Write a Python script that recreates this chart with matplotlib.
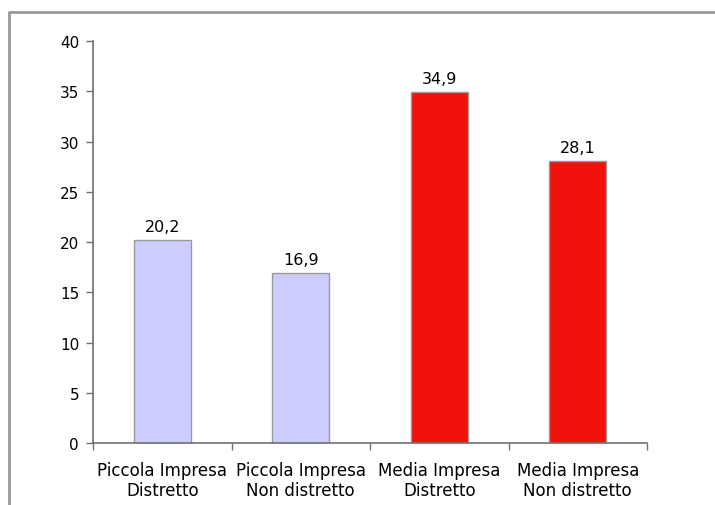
import matplotlib.pyplot as plt
from matplotlib.lines import Line2D

plt.rcParams['font.family'] = ['DejaVu Sans']

categories = ['Piccola Impresa\nDistretto', 'Piccola Impresa\nNon distretto',
              'Media Impresa\nDistretto', 'Media Impresa\nNon distretto']
values = [20.2, 16.9, 34.9, 28.1]
colors = ['#ccccff', '#ccccff', '#f2120b', '#f2120b']
yticks = [0, 5, 10, 15, 20, 25, 30, 35, 40]

W, H = 715, 506
fig = plt.figure(figsize=(W / 100, H / 100), dpi=100)

# outer frame: only left and top edges are inside the image
fx, fy = 9 / W, 1 - 13 / H
fig.lines.append(Line2D([fx, fx, 1.0], [0.0, fy, fy], transform=fig.transFigure,
                        color='#999999', linewidth=2))

ax = fig.add_axes([93 / W, 1 - 444 / H, (647 - 93) / W, (444 - 42) / H])

x = range(len(values))
ax.bar(x, values, width=0.41, color=colors, edgecolor='#999999', linewidth=1)
for i, v in enumerate(values):
    ax.text(i, v + 0.6, f'{v:.1f}'.replace('.', ','), ha='center', va='bottom',
            fontsize=11.5, color='black')

ax.set_xlim(-0.5, 3.5)
ax.set_ylim(0, 40)
ax.set_yticks(yticks)
ax.set_yticklabels([str(t) for t in yticks], fontsize=11)
ax.set_xticks([-0.5, 0.5, 1.5, 2.5, 3.5])
ax.set_xticklabels([])
ax.set_xticks(list(x), minor=True)
ax.set_xticklabels(categories, minor=True, fontsize=12, linespacing=1.15)
ax.tick_params(axis='x', which='minor', length=0, pad=13)
ax.tick_params(axis='both', which='major', direction='out', length=5,
               color='#707070', width=1)
ax.tick_params(axis='y', pad=5)

for s in ['top', 'right']:
    ax.spines[s].set_visible(False)
for s in ['left', 'bottom']:
    ax.spines[s].set_color('#707070')
    ax.spines[s].set_linewidth(1.2)

fig.savefig('out.png', dpi=100)
